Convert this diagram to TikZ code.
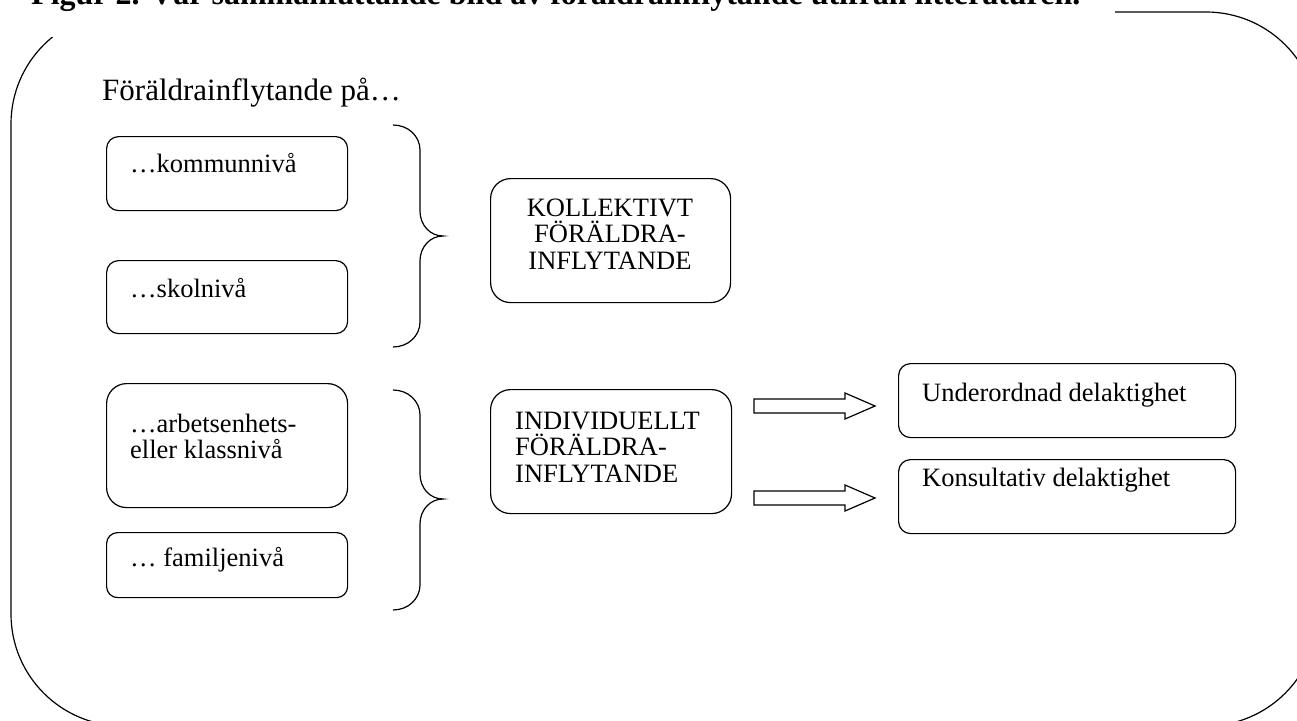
\documentclass[tikz,border=0pt]{standalone}
\usepackage{fontspec}
\setmainfont{Liberation Serif}
\usetikzlibrary{calc}
\begin{document}
\begin{tikzpicture}[x=1pt,y=-1pt,
  every node/.style={inner sep=0pt},
  box/.style={draw, line width=1.2pt, rounded corners=#1, anchor=north west},
  txt/.style={anchor=base west, font=\fontsize{26.5}{26.5}\selectfont},
  mtxt/.style={font=\fontsize{26.5}{26.5}\selectfont},
  lineart/.style={line width=1.2pt},
  blockarrow/.style={draw, line width=1.2pt, fill=white}]
\useasboundingbox (0,0) rectangle (1297,720);
\clip (0,0) rectangle (1297,720);
% outer frame
\draw[lineart, rounded corners=112] (11,12) rectangle (1318,726);
% title box (covers the top of the frame)
\fill[white] (-10,-10) rectangle (1115,37);
\node[anchor=base west, font=\bfseries\fontsize{32}{32}\selectfont] (title) at (31,5)
  {Figur 2. Vår sammanfattande bild av föräldrainflytande utifrån litteraturen.};
\node[anchor=base west, font=\fontsize{31}{31}\selectfont] (head) at (102,100) {Föräldrainflytande på…};
% left boxes
\node[box=12, minimum width=241, minimum height=74] (komm) at (106,136) {};
\node[txt] (kommt) at (130,172) {…kommunnivå};
\node[box=12, minimum width=241, minimum height=73] (skol) at (106,260) {};
\node[txt] (skolt) at (130,297) {…skolnivå};
\node[box=20, minimum width=241, minimum height=124] (arb) at (106,383) {};
\node[mtxt, anchor=north west, align=left, font=\fontsize{26.5}{26}\selectfont] (arbt) at (130,407)
  {\rule{0pt}{25pt}…arbetsenhets-\\eller klassnivå};
\node[box=11, minimum width=241, minimum height=65] (fam) at (106,532) {};
\node[txt] (famt) at (130,566) {… familjenivå};
% braces
\draw[lineart] (393,125) .. controls (408,125) and (420,136) .. (420,150) -- (420,211)
  .. controls (420,225) and (430,236) .. (443,236)
  .. controls (430,236) and (420,247) .. (420,261) -- (420,322)
  .. controls (420,336) and (408,347) .. (393,347);
\draw[lineart] (393,390) .. controls (408,390) and (420,401) .. (420,415) -- (420,474)
  .. controls (420,488) and (430,499) .. (443,499)
  .. controls (430,499) and (420,510) .. (420,524) -- (420,585)
  .. controls (420,599) and (408,610) .. (393,610);
% middle boxes
\node[box=20, minimum width=240, minimum height=124] (koll) at (490,178) {};
\node[mtxt, anchor=north, align=center] (kollt) at (610,191)
  {\rule{0pt}{25pt}KOLLEKTIVT\\FÖRÄLDRA-\\INFLYTANDE};
\node[box=20, minimum width=241, minimum height=124] (indiv) at (490,389) {};
\node[mtxt, anchor=north west, align=left] (indivt) at (515,404)
  {\rule{0pt}{25pt}INDIVIDUELLT\\FÖRÄLDRA-\\INFLYTANDE};
% block arrows
\coordinate (a1) at (754,406);
\coordinate (a2) at (754,498);
\draw[blockarrow] (a1) ++(0,-7) -- ++(91,0) -- ++(0,-6) -- ++(30,13) -- ++(-30,13) -- ++(0,-6) -- ++(-91,0) -- cycle;
\draw[blockarrow] (a2) ++(0,-7) -- ++(91,0) -- ++(0,-6) -- ++(30,13) -- ++(-30,13) -- ++(0,-6) -- ++(-91,0) -- cycle;
% right boxes
\node[box=12, minimum width=337, minimum height=74] (under) at (898,363) {};
\node[txt] (undert) at (922,401) {Underordnad delaktighet};
\node[box=12, minimum width=337, minimum height=74] (kons) at (898,459) {};
\node[txt] (konst) at (922,486) {Konsultativ delaktighet};
\end{tikzpicture}
\end{document}
